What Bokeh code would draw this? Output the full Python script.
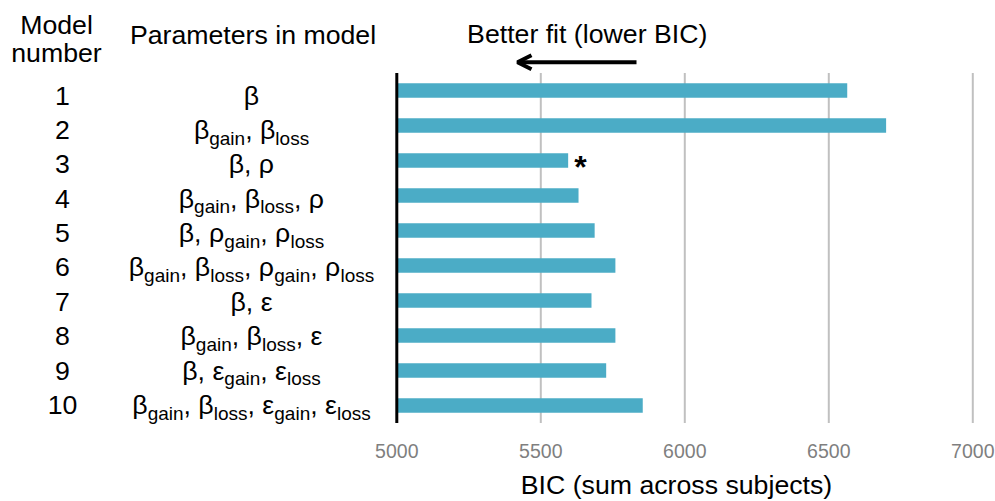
from bokeh.plotting import figure
from bokeh.models import Range1d, Arrow, OpenHead
from bokeh.core.properties import value
from bokeh.embed import file_html
from bokeh.resources import INLINE

# ---------------- data ----------------
model_numbers = [1, 2, 3, 4, 5, 6, 7, 8, 9, 10]
bic_sum = [6564, 6699, 5595, 5631, 5687, 5759, 5676, 5759, 5727, 5854]
param_symbols = [
    [("β", "")],
    [("β", "gain"), ("β", "loss")],
    [("β", ""), ("ρ", "")],
    [("β", "gain"), ("β", "loss"), ("ρ", "")],
    [("β", ""), ("ρ", "gain"), ("ρ", "loss")],
    [("β", "gain"), ("β", "loss"), ("ρ", "gain"), ("ρ", "loss")],
    [("β", ""), ("ε", "")],
    [("β", "gain"), ("β", "loss"), ("ε", "")],
    [("β", ""), ("ε", "gain"), ("ε", "loss")],
    [("β", "gain"), ("β", "loss"), ("ε", "gain"), ("ε", "loss")],
]
bic_ticks = [5000, 5500, 6000, 6500, 7000]
tick_labels = ["5000", "5500", "6000", "6500", "7000"]
best_model = 3

# ---------------- layout (pixels) ----------------
W, H = 995, 501
X0, X1 = bic_ticks[0], bic_ticks[-1]
AX_L, AX_R = 396.3, 972.3        # pixel x of first / last tick
ROW_TOP, ROW_PX = 72.5, 35.0      # pixel y of plot top, height of one row
N = len(model_numbers)
UPP = (X1 - X0) / (AX_R - AX_L)   # data units per pixel

FONT = "Liberation Sans"
MAIN = 26.7
SUB = 19.0
TICK = 19.5
STAR = 32.0
MID = 0.3465                      # baseline below text middle, in em
BAR_COLOR = "#4BACC6"

x_range = Range1d(X0 - AX_L * UPP, X0 + (W - AX_L) * UPP)
y_range = Range1d(0.5 + (H - ROW_TOP) / ROW_PX, 0.5 - ROW_TOP / ROW_PX)

p = figure(width=W, height=H, output_backend="svg", toolbar_location=None,
           x_range=x_range, y_range=y_range,
           x_axis_location=None, y_axis_location=None)
p.min_border_left = p.min_border_right = p.min_border_top = p.min_border_bottom = 0
p.outline_line_color = None
p.grid.visible = False
p.background_fill_color = "white"
p.border_fill_color = "white"


def dx(cx):
    return X0 + (cx - AX_L) * UPP


def dy(cy):
    return 0.5 + (cy - ROW_TOP) / ROW_PX


def dyb(baseline, size):
    # data y of the text middle for a wanted baseline pixel
    return dy(baseline - MID * size)


y_lo, y_hi = 0.5, N + 0.5

# vertical grid lines
p.segment(x0=bic_ticks[1:], y0=[y_lo] * (len(bic_ticks) - 1),
          x1=bic_ticks[1:], y1=[y_hi] * (len(bic_ticks) - 1),
          line_color="#c0c0c0", line_width=2)

# bars
p.hbar(y=model_numbers, left=X0, right=bic_sum, height=0.41,
       fill_color=BAR_COLOR, line_color=None)

# value axis line at the first tick
p.segment(x0=[X0], y0=[y_lo], x1=[X0], y1=[y_hi], line_color="black", line_width=3)

# tick labels
p.text(x=bic_ticks, y=[dyb(457.3, TICK)] * len(bic_ticks), text=tick_labels,
       text_font=value(FONT), text_font_size=value(f"{TICK}px"), text_color="#7f7f7f",
       text_align="center", text_baseline="middle")


def txt(items, size=MAIN, align="center", style="normal"):
    xs = [dx(i[1]) for i in items]
    ys = [dyb(i[2], size) for i in items]
    p.text(x=xs, y=ys, text=[i[0] for i in items], text_font=value(FONT),
           text_font_size=value(f"{size}px"), text_align=align,
           text_baseline="middle", text_color="black",
           text_font_style=style)


# headers and axis title
txt([("Model", 56, 33.3), ("number", 56, 61.7),
     ("Parameters in model", 252.5, 43.3), ("Better fit (lower BIC)", 586.7, 42.7),
     ("BIC (sum across subjects)", 676, 494.0)])

p.add_layout(Arrow(x_start=dx(636), y_start=dy(61.7), x_end=dx(517), y_end=dy(61.7),
                   line_width=4, line_color="black",
                   end=OpenHead(size=14, line_width=4, line_color="black")))

# Arial / Liberation Sans advance widths (per 1000 em)
WID = {"β": 575, "ρ": 578, "ε": 446, ",": 278, " ": 278, "g": 556, "a": 556,
       "i": 222, "n": 556, "l": 222, "o": 556, "s": 500}


def tw(s, size):
    return sum(WID.get(c, 556) for c in s) * size / 1000.0


ROW0, ROWSTEP, SUBDROP = 104.5, 34.35, 5.5
NUM_CX, PAR_CX = 62, 251
num_items, main_items, sub_items = [], [], []
for k, (num, syms) in enumerate(zip(model_numbers, param_symbols)):
    base = ROW0 + k * ROWSTEP
    num_items.append((str(num), NUM_CX, base))
    segs = []
    for j, (g, sub) in enumerate(syms):
        segs.append(((", " if j > 0 else "") + g, MAIN))
        if sub:
            segs.append((sub, SUB))
    total = sum(tw(s, sz) for s, sz in segs)
    x = PAR_CX - total / 2
    for s, sz in segs:
        if sz == SUB:
            sub_items.append((s, x, base + SUBDROP))
        else:
            main_items.append((s, x, base))
        x += tw(s, sz)

txt(num_items)
txt(main_items, align="left")
txt(sub_items, size=SUB, align="left")

# asterisk marking the best model
bi = model_numbers.index(best_model)
bar_center_px = ROW_TOP + (best_model - 0.5) * ROW_PX
p.text(x=[bic_sum[bi]], y=[dyb(bar_center_px + 18.0, STAR)], text=["*"], x_offset=6,
       text_font=value(FONT), text_font_size=value(f"{STAR}px"), text_font_style="bold",
       text_align="left", text_baseline="middle", text_color="black")

open("out.html", "w").write(file_html(p, INLINE))
